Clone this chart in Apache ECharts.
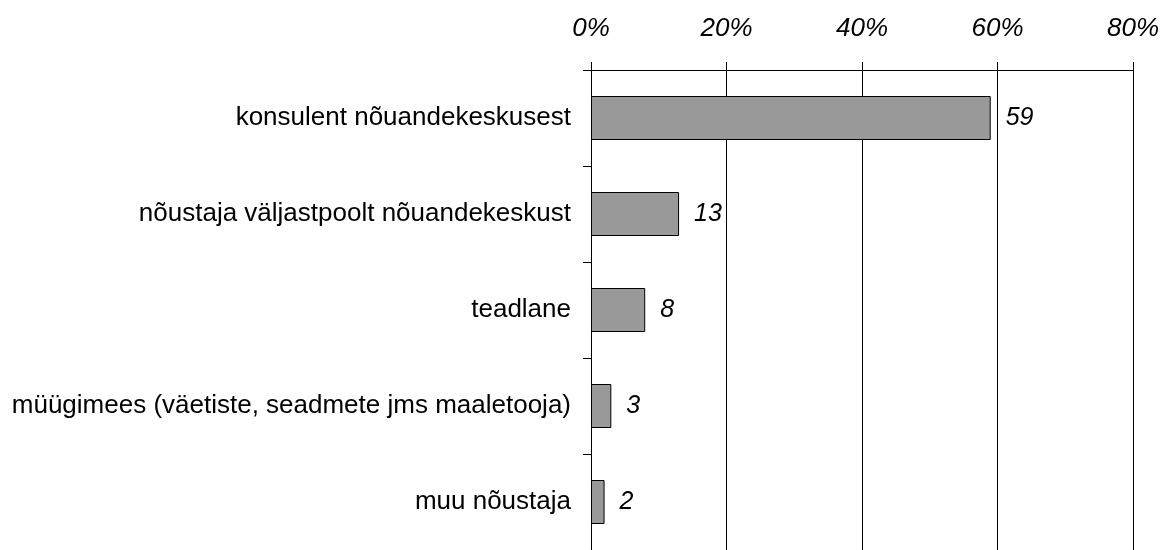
<!DOCTYPE html>
<html>
<head>
    <meta charset="utf-8">
    <title>ECharts</title>
    <script src="https://cdn.jsdelivr.net/npm/echarts@6/dist/echarts.min.js"></script>
    <style>
        html, body { margin: 0; padding: 0; background: #fff; }
    </style>
</head>
<body>
    <div id="main" style="width: 1162px;height:550px;"></div>
    <script type="text/javascript">
        var chartDom = document.getElementById('main');
        var myChart = echarts.init(chartDom);
        var option;

        // kategooriad ülevalt alla
        var categories = [
            'konsulent nõuandekeskusest',
            'nõustaja väljastpoolt nõuandekeskust',
            'teadlane',
            'müügimees (väetiste, seadmete jms maaletooja)',
            'muu nõustaja'
        ];
        var values = [59, 13, 8, 3, 2];
        var axisMin = 0;
        var axisMax = 80;
        var axisStep = 20;

        var font = 'Liberation Sans, Arial, sans-serif';

        option = {
            animation: false,
            grid: {
                left: 591,
                right: 27,
                top: 70,
                height: 484
            },
            xAxis: {
                type: 'value',
                position: 'top',
                min: axisMin,
                max: axisMax,
                interval: axisStep,
                axisLine: { show: true, lineStyle: { color: '#000', width: 1 } },
                axisTick: { show: true, length: 8, lineStyle: { color: '#000' } },
                axisLabel: {
                    formatter: '{value}%',
                    color: '#000',
                    fontFamily: font,
                    fontStyle: 'italic',
                    fontSize: 26,
                    margin: 28
                },
                splitLine: { show: true, lineStyle: { color: '#000', width: 1 } }
            },
            yAxis: {
                type: 'category',
                inverse: true,
                data: categories,
                axisLine: { show: true, lineStyle: { color: '#000', width: 1 } },
                axisTick: { show: true, length: 8, lineStyle: { color: '#000' } },
                axisLabel: {
                    color: '#000',
                    fontFamily: font,
                    fontSize: 26,
                    margin: 20
                }
            },
            series: [{
                type: 'bar',
                data: values,
                barWidth: 44,
                itemStyle: {
                    color: '#999999',
                    borderColor: '#000',
                    borderWidth: 1
                },
                label: {
                    show: true,
                    position: 'right',
                    distance: 15,
                    color: '#000',
                    fontFamily: font,
                    fontStyle: 'italic',
                    fontSize: 25
                }
            }]
        };

        option && myChart.setOption(option);
    </script>
</body>
</html>
